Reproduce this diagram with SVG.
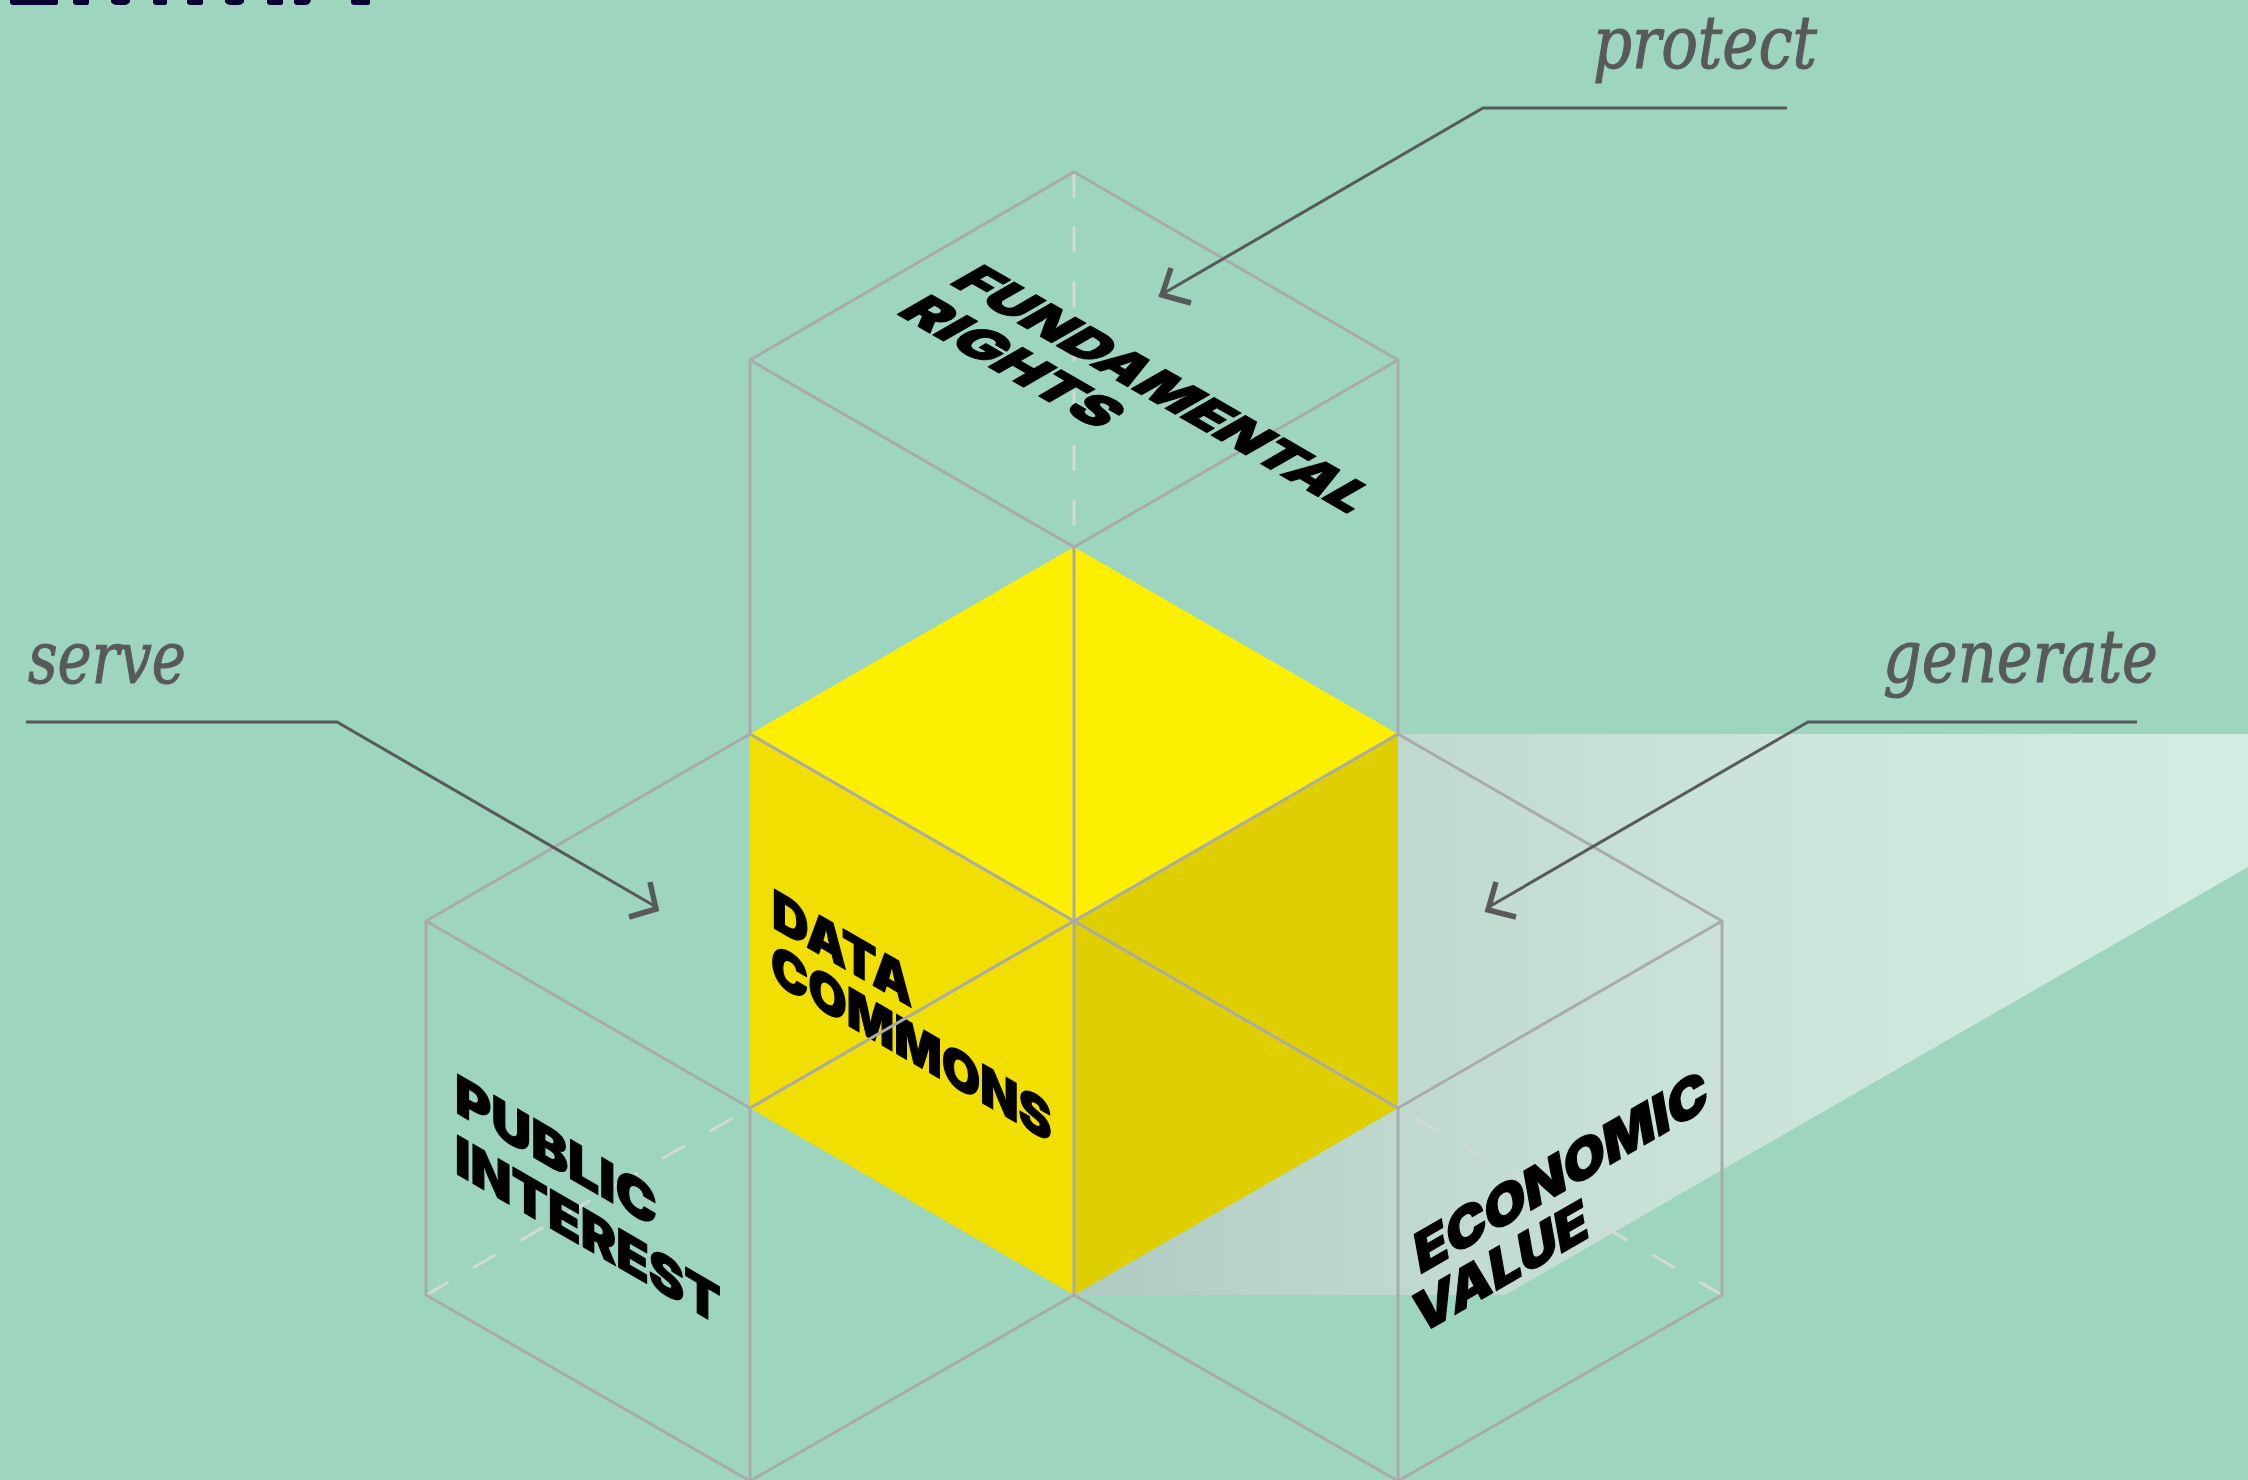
<svg xmlns="http://www.w3.org/2000/svg" width="2248" height="1480" viewBox="0 0 2248 1480">
<style>
.wire{fill:none;stroke:#A9ABAB;stroke-width:3}
.dash{fill:none;stroke:#D2DAD6;stroke-width:3;stroke-dasharray:26 28.6}
.lead{fill:none;stroke:#58595B;stroke-width:3}
.head{fill:none;stroke:#58595B;stroke-width:5.5}
.verb{font-family:"DejaVu Serif Condensed","DejaVu Serif",serif;font-style:italic;font-size:72px;fill:#58595B;stroke:#58595B;stroke-width:1}
.lab{font-family:"Inter","Liberation Sans",sans-serif;font-weight:900;font-size:54px;fill:#000;stroke:#000;stroke-width:1.2;stroke-linejoin:round}
</style>
<defs>
<linearGradient id="beam" gradientUnits="userSpaceOnUse" x1="1074" y1="0" x2="2248" y2="0">
<stop offset="0" stop-color="#AECBC1"/><stop offset="0.28" stop-color="#C0D9CF"/><stop offset="0.5" stop-color="#C9E2D8"/><stop offset="1" stop-color="#D4EDE3"/>
</linearGradient>
</defs>
<rect id="background" width="2248" height="1480" fill="#9ED5BF"/>
<path id="title-remnant" fill="#0A0033" d="M10 0h48v3q0 2-2 2H13q-2 0-3-2zM73 0h16v3q0 2-2 2H76q-2 0-3-2zM111 0h19v2q-2 3-6 3h-7q-4 0-6-3zM153 0h14v3q0 2-2 2H156q-2 0-3-2zM187 0h16v3q0 2-2 2H190q-2 0-3-2zM225 0h19v2q-2 3-6 3h-7q-4 0-6-3zM267 0h16v3q0 2-2 2H270q-2 0-3-2zM294 0h17q-1 5-6 5H297q-2 0-3-2zM351 0h19v3q0 2-2 2H354q-2 0-3-2z"/>
<polygon id="beam-shape" fill="url(#beam)" points="1398,734 2248,734 2248,867 1505,1295 1074,1295 1398,1108"/>
<g id="data-commons">
<polygon fill="#FCF000" points="1074,547 1398,734 1074,921 750,734"/>
<polygon fill="#F0DF00" points="750,734 1074,921 1074,1295 750,1108"/>
<polygon fill="#DFCF00" points="1398,734 1074,921 1074,1295 1398,1108"/>
<text class="lab" transform="matrix(.866 .5 0 1 772 927)" textLength="162" lengthAdjust="spacingAndGlyphs">DATA</text>
<text class="lab" transform="matrix(.866 .5 0 1 771 981)" textLength="324" lengthAdjust="spacingAndGlyphs">COMMONS</text>
</g>
<g id="connectors">
<path class="dash" d="M1074 172V547"/>
<path class="dash" d="M426 1295L750 1108"/>
<path class="dash" d="M1722 1295L1398 1108"/>
<path class="wire" d="M750 734V360L1074 172L1398 360V734"/>
<path class="wire" d="M750 360L1074 547L1398 360"/>
<path class="wire" d="M1074 547V1295"/>
<path class="wire" d="M750 734L1074 921L1398 734"/>
<path class="wire" d="M750 1108L1074 921L1398 1108"/>
<path class="wire" d="M750 734L426 921V1295L750 1481L1074 1295L1398 1481L1722 1295V921L1398 734"/>
<path class="wire" d="M426 921L750 1108V1481"/>
<path class="wire" d="M1722 921L1398 1108V1481"/>
<path class="lead" d="M1787 108H1483L1159 296"/>
<path class="head" d="M1171 268L1162 295L1191 303"/>
<path class="lead" d="M26 722H337L658 908"/>
<path class="head" d="M650 882L656 909L629 917"/>
<path class="lead" d="M2137 722H1808L1487 908"/>
<path class="head" d="M1496 882L1488 910L1516 917"/>
</g>
<g id="fundamental-rights">
<text class="lab" transform="matrix(.866 .5 -.866 .5 948 283)" textLength="462" lengthAdjust="spacingAndGlyphs">FUNDAMENTAL</text>
<text class="lab" transform="matrix(.866 .5 -.866 .5 895 313)" textLength="234" lengthAdjust="spacingAndGlyphs">RIGHTS</text>
</g>
<g id="public-interest">
<text class="lab" transform="matrix(.866 .5 0 1 455 1112)" textLength="233" lengthAdjust="spacingAndGlyphs">PUBLIC</text>
<text class="lab" transform="matrix(.866 .5 0 1 455 1173)" textLength="307" lengthAdjust="spacingAndGlyphs">INTEREST</text>
</g>
<g id="economic-value">
<text class="lab" transform="matrix(.866 -.5 .18 1 1419 1275)" textLength="336" lengthAdjust="spacingAndGlyphs">ECONOMIC</text>
<text class="lab" transform="matrix(.866 -.5 .18 1 1418 1336)" textLength="199" lengthAdjust="spacingAndGlyphs">VALUE</text>
</g>
<g id="labels">
<text class="verb" x="1593" y="68" textLength="224" lengthAdjust="spacingAndGlyphs">protect</text>
<text class="verb" x="28" y="683" textLength="158" lengthAdjust="spacingAndGlyphs">serve</text>
<text class="verb" x="1883" y="682" textLength="275" lengthAdjust="spacingAndGlyphs">generate</text>
</g>
</svg>
